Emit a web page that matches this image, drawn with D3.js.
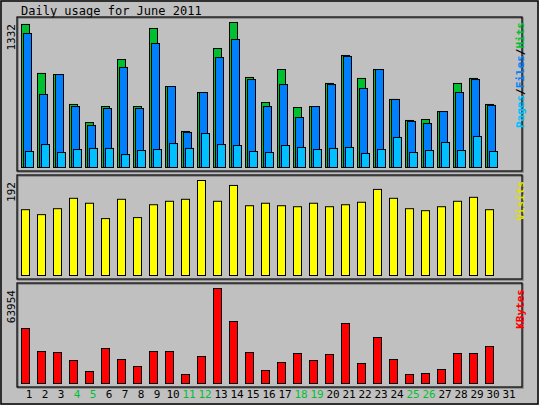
<!DOCTYPE html>
<html>
<head>
<meta charset="utf-8">
<script src="https://cdn.jsdelivr.net/npm/d3@7"></script>
<style>
body { margin: 0; background: #fff; }
text { font-family: "DejaVu Sans Mono", monospace; }
</style>
</head>
<body>
<script>
var days = d3.range(1, 31);
var weekend = [4, 5, 11, 12, 18, 19, 25, 26];
var hits = [1314, 864, 854, 579, 413, 560, 992, 560, 1277, 744, 331, 689, 1093, 1332, 827,
            597, 900, 551, 560, 772, 1029, 818, 900, 625, 432, 441, 514, 772, 818, 579];
var files = [1231, 671, 854, 560, 386, 542, 919, 542, 1139, 744, 322, 689, 1010, 1176, 808,
             560, 762, 459, 560, 762, 1020, 726, 900, 625, 423, 404, 514, 689, 808, 570];
var pages = [147, 211, 138, 165, 175, 175, 119, 156, 165, 220, 175, 312, 211, 202, 147,
             138, 202, 184, 165, 175, 184, 129, 165, 276, 138, 156, 230, 156, 285, 147];
var visits = [133, 123, 135, 156, 146, 115, 154, 117, 143, 150, 154, 192, 150, 182, 141,
              146, 141, 139, 146, 139, 143, 148, 174, 156, 135, 131, 139, 150, 158, 133];
var kbytes = [37026, 21542, 20869, 15484, 8078, 23562, 16157, 11444, 21542, 21542, 6059, 18176, 63954, 41738, 20869,
              8752, 14137, 20196, 15484, 19523, 40392, 13464, 30967, 16157, 6059, 6732, 9425, 20196, 20196, 24908];

var W = 539, H = 405;
var svg = d3.select("body").append("svg").attr("width", W).attr("height", H);

// background and outer frame
svg.append("rect").attr("x", 0).attr("y", 0).attr("width", W).attr("height", H).attr("fill", "#c0c0c0");
svg.append("rect").attr("x", 1).attr("y", 1).attr("width", W - 2).attr("height", H - 2)
    .attr("fill", "none").attr("stroke", "#000").attr("stroke-width", 1.5);

svg.append("text").attr("x", 21).attr("y", 15).attr("font-size", 12).attr("fill", "#000")
    .text("Daily usage for June 2011");

var x = d3.scaleLinear().domain([1, 31]).range([21, 501]);

function panel(y0, y1) {
    svg.append("rect").attr("x", 18).attr("y", y0 + 1).attr("width", 505).attr("height", y1 - y0)
        .attr("fill", "none").attr("stroke", "#808080").attr("stroke-width", 1.5);
    svg.append("rect").attr("x", 17).attr("y", y0).attr("width", 505).attr("height", y1 - y0)
        .attr("fill", "none").attr("stroke", "#000").attr("stroke-width", 1.2);
}
function bars(data, y, off, w, fill) {
    svg.append("g").selectAll("rect").data(data).join("rect")
        .attr("x", (d, i) => x(days[i]) + off + 0.5)
        .attr("y", d => y(d) + 0.5)
        .attr("width", w)
        .attr("height", d => y(0) - y(d))
        .attr("fill", fill).attr("stroke", "#000").attr("stroke-width", 1);
}
function leftLabel(txt, y) {
    svg.append("text").attr("transform", "translate(15," + y + ") rotate(-90)")
        .attr("text-anchor", "end").attr("font-size", 11).text(txt);
}
function rightLabel(parts, y) {
    var t = svg.append("text").attr("transform", "translate(524," + y + ") rotate(-90)")
        .attr("text-anchor", "end").attr("font-size", 11).attr("font-weight", "bold");
    parts.forEach(p => t.append("tspan").attr("fill", p[1]).text(p[0]));
}

// panel 1: hits / files / pages
panel(17, 171);
var y1 = d3.scaleLinear().domain([0, d3.max(hits)]).range([167, 22]);
bars(hits, y1, 0, 8, "#00c030");
bars(files, y1, 2, 8, "#0080ff");
bars(pages, y1, 4, 8, "#00c0ff");
leftLabel("1332", 24);
rightLabel([["Pages", "#00c0ff"], ["/", "#000"], ["Files", "#0080ff"], ["/", "#000"], ["Hits", "#00c030"]], 22);

// panel 2: visits
panel(175, 279);
var y2 = d3.scaleLinear().domain([0, d3.max(visits)]).range([275, 180]);
bars(visits, y2, 0, 8, "#ffff00");
leftLabel("192", 182);
rightLabel([["Visits", "#e0e000"]], 181);

// panel 3: kbytes
panel(283, 387);
var y3 = d3.scaleLinear().domain([0, d3.max(kbytes)]).range([383, 288]);
bars(kbytes, y3, 0, 8, "#ff0000");
leftLabel("63954", 290);
rightLabel([["KBytes", "#ff0000"]], 289);

// day labels
svg.append("g").selectAll("text").data(d3.range(1, 32)).join("text")
    .attr("x", d => x(d) + 8).attr("y", 398)
    .attr("text-anchor", "middle").attr("font-size", 11)
    .attr("fill", d => weekend.includes(d) ? "#00c030" : "#000")
    .text(d => d);
</script>
</body>
</html>
